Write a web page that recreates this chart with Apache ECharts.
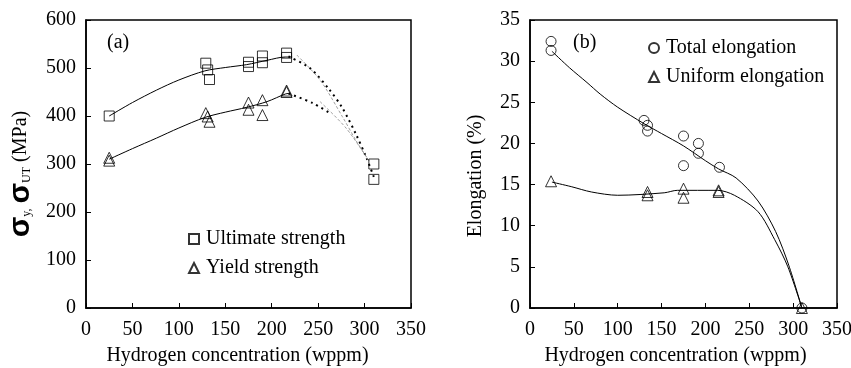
<!DOCTYPE html>
<html><head><meta charset="utf-8">
<script src="https://cdn.jsdelivr.net/npm/echarts@6/dist/echarts.min.js"></script>
<style>html,body{margin:0;padding:0;background:#fff}#c{width:851px;height:368px}</style>
</head><body><div id="c"></div>
<script>
// ---------- data (a) ----------
const xTicks = [0, 50, 100, 150, 200, 250, 300, 350];
const utsPoints = [[25,400],[129,510],[131,496],[133,476],[175,512],[175,503],[190,525],[190,511],[216,531],[216,522],[310,300],[310,268]];
const ysPoints = [[25,313],[25,307],[129,406],[131,399],[133,388],[175,428],[175,413],[190,433],[190,402],[216,453],[216,450]];
const utsFit = [[25,400],[50,428],[76,454],[100,475],[128,494],[150,501],[173,507],[195,516],[215,523],[222,523]];
const ysFit = [[25,310],[50,332],[76,354],[100,375],[128,397],[150,408],[173,418],[195,430],[215,446],[220,447]];
const utsDrop = [[218,524],[241,500],[262,455],[276,417],[291,361],[302,313],[310,273]];
const utsDropThin = [[227,527],[252,475],[276,399],[292,345],[305,306]];
const ysDrop = [[218,447],[244,427],[262,407]];
const ysDropThin = [[252,430],[280,375],[305,306]];
// ---------- data (b) ----------
const totalPoints = [[24,32.4],[24,31.3],[130,22.8],[134,22.2],[134,21.5],[175,20.9],[175,17.3],[192,20.0],[192,18.8],[216,17.1],[310,0]];
const uniformPoints = [[24,15.4],[134,14.1],[134,13.7],[175,14.5],[175,13.4],[215,14.3],[215,14.1],[310,0]];
const totalFit = [[25,31.2],[45,29.2],[65,27.4],[80,26.0],[100,24.4],[130,22.4],[150,21.2],[175,19.7],[200,17.9],[215,16.9],[235,15.8],[260,13.0],[280,9.3],[295,5.2],[310,0]];
const uniformFit = [[25,15.3],[47,14.75],[70,14.1],[100,13.7],[153,14.0],[168,14.3],[214,14.3],[233,13.7],[260,11.7],[279,8.3],[294,5.0],[310,0]];

const F = 'Liberation Serif';
const chart = echarts.init(document.getElementById('c'), null, {renderer:'canvas'});

function xAx(gi, namePad){
  return {type:'value', gridIndex:gi, min:0, max:350, interval:50,
    axisLine:{show:true, onZero:false, lineStyle:{color:'#000', width:1.5}},
    axisTick:{show:true, inside:true, length:5, lineStyle:{color:'#000', width:1}},
    axisLabel:{color:'#000', fontFamily:F, fontSize:20, margin:12, formatter:v=>String(v)},
    splitLine:{show:false},
    name:'Hydrogen concentration (wppm)', nameLocation:'middle', nameGap:38,
    nameTextStyle:{color:'#000', fontFamily:F, fontSize:20, padding:namePad}};
}
function yAx(gi, max, interval, extra){
  return Object.assign({type:'value', gridIndex:gi, min:0, max:max, interval:interval,
    axisLine:{show:true, onZero:false, lineStyle:{color:'#000', width:1.5}},
    axisTick:{show:true, inside:true, length:5, lineStyle:{color:'#000', width:1}},
    axisLabel:{color:'#000', fontFamily:F, fontSize:20, margin:10},
    splitLine:{show:false}, nameLocation:'middle', nameRotate:90}, extra);
}
const hollow = {color:'rgba(0,0,0,0)', borderColor:'#000', borderWidth:1};
function fit(gi, data, style){
  return {type:'line', xAxisIndex:gi, yAxisIndex:gi, data:data, smooth:0.3, symbol:'none', showSymbol:false,
    lineStyle:Object.assign({color:'#000', width:1}, style||{}), z:1, silent:true};
}

chart.setOption({
  animation:false,
  backgroundColor:'#fff',
  grid:[
    {left:86, top:20, width:325, height:288, show:true, borderColor:'#000', borderWidth:1.5, containLabel:false, outerBoundsMode:'none'},
    {left:530, top:20, width:307, height:288, show:true, borderColor:'#000', borderWidth:1.5, containLabel:false, outerBoundsMode:'none'}
  ],
  xAxis:[xAx(0,[0,22,0,0]), xAx(1,[0,16,0,0])],
  yAxis:[
    yAx(0, 600, 100, {name:'{s|σ}{sub|y,} {s|σ}{sub|UT} (MPa)', nameGap:50,
      nameTextStyle:{color:'#000', fontFamily:F, fontSize:20, padding:[0,20,0,0],
        rich:{s:{fontFamily:'Liberation Sans', fontWeight:'bold', fontSize:30, color:'#000'},
              sub:{fontFamily:F, fontSize:12, color:'#000', padding:[12,0,0,0]}}}}),
    yAx(1, 35, 5, {name:'Elongation (%)', nameGap:44,
      nameTextStyle:{color:'#000', fontFamily:F, fontSize:20, padding:[0,24,0,0]}})
  ],
  legend:[
    {data:['Ultimate strength','Yield strength'], orient:'vertical', left:183, top:224, itemWidth:10, itemHeight:10, itemGap:9,
      selectedMode:false, textStyle:{color:'#000', fontFamily:F, fontSize:20, lineHeight:20, padding:[0,0,0,2]}},
    {data:['Total elongation','Uniform elongation'], orient:'vertical', left:643, top:33, itemWidth:10, itemHeight:10, itemGap:9,
      selectedMode:false, textStyle:{color:'#000', fontFamily:F, fontSize:20, lineHeight:20, padding:[0,0,0,2]}}
  ],
  graphic:[
    {type:'text', left:107, top:33, style:{text:'(a)', font:'20px "Liberation Serif"', fill:'#000'}},
    {type:'text', left:573, top:33, style:{text:'(b)', font:'20px "Liberation Serif"', fill:'#000'}}
  ],
  series:[
    fit(0, utsFit), fit(0, ysFit),
    fit(0, utsDrop, {type:[2,4], width:2}), fit(0, utsDropThin, {type:[3,2], width:0.8, color:'#888'}),
    fit(0, ysDrop, {type:[2,4], width:2}), fit(0, ysDropThin, {type:[3,2], width:0.8, color:'#888'}),
    {name:'Ultimate strength', type:'scatter', xAxisIndex:0, yAxisIndex:0, data:utsPoints, symbol:'rect', symbolSize:10, itemStyle:hollow, clip:false, z:3},
    {name:'Yield strength', type:'scatter', xAxisIndex:0, yAxisIndex:0, data:ysPoints, symbol:'triangle', symbolSize:11, itemStyle:hollow, clip:false, z:3},
    fit(1, totalFit), fit(1, uniformFit),
    {name:'Total elongation', type:'scatter', xAxisIndex:1, yAxisIndex:1, data:totalPoints, symbol:'circle', symbolSize:10, itemStyle:hollow, clip:false, z:3},
    {name:'Uniform elongation', type:'scatter', xAxisIndex:1, yAxisIndex:1, data:uniformPoints, symbol:'triangle', symbolSize:11, itemStyle:hollow, clip:false, z:3}
  ]
});
</script></body></html>
